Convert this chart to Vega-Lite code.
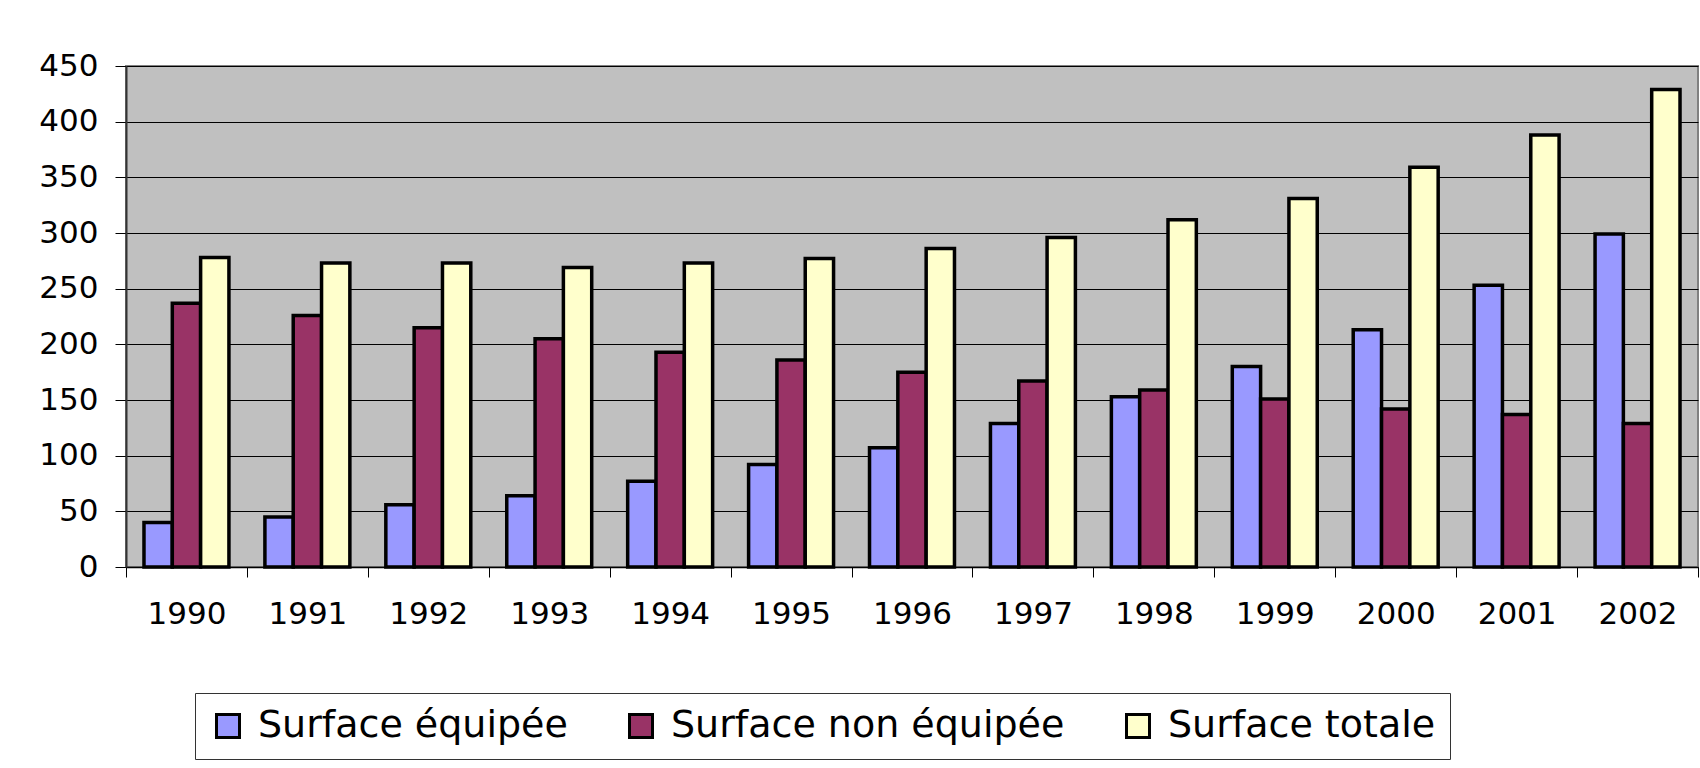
{
  "$schema": "https://vega.github.io/schema/vega-lite/v6.json",
  "width": 1572,
  "height": 501,
  "autosize": "none",
  "padding": {"left": 126, "top": 66, "right": 2, "bottom": 201},
  "background": "white",
  "data": {
    "values": [
      {"year": "1990", "serie": "Surface équipée", "value": 40},
      {"year": "1990", "serie": "Surface non équipée", "value": 237},
      {"year": "1990", "serie": "Surface totale", "value": 278},
      {"year": "1991", "serie": "Surface équipée", "value": 45},
      {"year": "1991", "serie": "Surface non équipée", "value": 226},
      {"year": "1991", "serie": "Surface totale", "value": 273},
      {"year": "1992", "serie": "Surface équipée", "value": 56},
      {"year": "1992", "serie": "Surface non équipée", "value": 215},
      {"year": "1992", "serie": "Surface totale", "value": 273},
      {"year": "1993", "serie": "Surface équipée", "value": 64},
      {"year": "1993", "serie": "Surface non équipée", "value": 205},
      {"year": "1993", "serie": "Surface totale", "value": 269},
      {"year": "1994", "serie": "Surface équipée", "value": 77},
      {"year": "1994", "serie": "Surface non équipée", "value": 193},
      {"year": "1994", "serie": "Surface totale", "value": 273},
      {"year": "1995", "serie": "Surface équipée", "value": 92},
      {"year": "1995", "serie": "Surface non équipée", "value": 186},
      {"year": "1995", "serie": "Surface totale", "value": 277},
      {"year": "1996", "serie": "Surface équipée", "value": 107},
      {"year": "1996", "serie": "Surface non équipée", "value": 175},
      {"year": "1996", "serie": "Surface totale", "value": 286},
      {"year": "1997", "serie": "Surface équipée", "value": 129},
      {"year": "1997", "serie": "Surface non équipée", "value": 167},
      {"year": "1997", "serie": "Surface totale", "value": 296},
      {"year": "1998", "serie": "Surface équipée", "value": 153},
      {"year": "1998", "serie": "Surface non équipée", "value": 159},
      {"year": "1998", "serie": "Surface totale", "value": 312},
      {"year": "1999", "serie": "Surface équipée", "value": 180},
      {"year": "1999", "serie": "Surface non équipée", "value": 151},
      {"year": "1999", "serie": "Surface totale", "value": 331},
      {"year": "2000", "serie": "Surface équipée", "value": 213},
      {"year": "2000", "serie": "Surface non équipée", "value": 142},
      {"year": "2000", "serie": "Surface totale", "value": 359},
      {"year": "2001", "serie": "Surface équipée", "value": 253},
      {"year": "2001", "serie": "Surface non équipée", "value": 137},
      {"year": "2001", "serie": "Surface totale", "value": 388},
      {"year": "2002", "serie": "Surface équipée", "value": 299},
      {"year": "2002", "serie": "Surface non équipée", "value": 129},
      {"year": "2002", "serie": "Surface totale", "value": 429}
    ]
  },
  "mark": {"type": "bar", "stroke": "black", "strokeWidth": 3.5},
  "encoding": {
    "x": {
      "field": "year",
      "type": "nominal",
      "scale": {"paddingInner": 0, "paddingOuter": 0},
      "axis": {
        "title": null,
        "labelAngle": 0,
        "tickBand": "extent",
        "tickSize": 10,
        "tickColor": "black",
        "domainColor": "black",
        "domainWidth": 1.5,
        "labelFont": "DejaVu Sans",
        "labelFontSize": 31,
        "labelColor": "black",
        "labelPadding": 22,
        "grid": false
      }
    },
    "xOffset": {
      "field": "serie",
      "type": "nominal",
      "sort": ["Surface équipée", "Surface non équipée", "Surface totale"],
      "scale": {"paddingInner": 0, "paddingOuter": 0.635}
    },
    "y": {
      "field": "value",
      "type": "quantitative",
      "scale": {"domain": [0, 450], "nice": false},
      "axis": {
        "title": null,
        "values": [0, 50, 100, 150, 200, 250, 300, 350, 400, 450],
        "grid": true,
        "gridColor": "black",
        "gridOpacity": 1,
        "gridWidth": 1,
        "tickSize": 11,
        "tickColor": "black",
        "domainColor": "#333333",
        "domainWidth": 2,
        "labelFont": "DejaVu Sans",
        "labelFontSize": 31,
        "labelColor": "black",
        "labelPadding": 17
      }
    },
    "color": {
      "field": "serie",
      "type": "nominal",
      "scale": {
        "domain": ["Surface équipée", "Surface non équipée", "Surface totale"],
        "range": ["#9999FF", "#993366", "#FFFFCC"]
      },
      "legend": {
        "title": null,
        "orient": "none",
        "legendX": 69,
        "legendY": 627,
        "direction": "horizontal",
        "symbolType": "square",
        "symbolSize": 529,
        "symbolStrokeColor": "black",
        "symbolStrokeWidth": 3,
        "symbolOpacity": 1,
        "labelFont": "DejaVu Sans",
        "labelFontSize": 38,
        "labelColor": "black",
        "labelLimit": 800,
        "labelOffset": 11,
        "columnPadding": 54,
        "padding": 14,
        "strokeColor": "#333333",
        "fillColor": "white"
      }
    }
  },
  "config": {
    "view": {"fill": "#C0C0C0", "stroke": "#808080", "strokeWidth": 2}
  }
}
